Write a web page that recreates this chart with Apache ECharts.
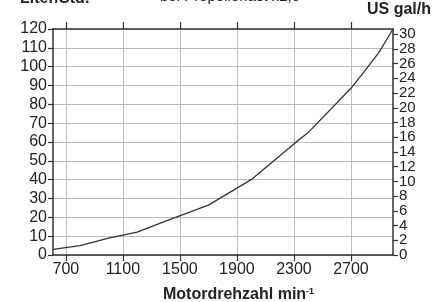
<!DOCTYPE html>
<html>
<head>
<meta charset="utf-8">
<script src="https://cdn.jsdelivr.net/npm/echarts@6/dist/echarts.min.js"></script>
<style>
  html, body { margin: 0; padding: 0; background: #fff; }
  #chart { width: 437px; height: 302px; }
</style>
</head>
<body>
<div id="chart"></div>
<script>
// Verbrauch (Liter/Std.) über Motordrehzahl
const rpm = [610, 800, 1000, 1200, 1400, 1700, 2000, 2300, 2400, 2700, 2800, 2900, 2995]
const literPerHour = [3.0, 5.0, 9.0, 12.2, 18, 26.5, 40, 59, 65, 88.5, 98, 108, 120]
const rpmTicks = [700, 1100, 1500, 1900, 2300, 2700]
const galTicks = [0, 2, 4, 6, 8, 10, 12, 14, 16, 18, 20, 22, 24, 26, 28, 30]

const ink = '#222'
const font = 'Liberation Sans, Arial, sans-serif'
const narrow = 'Liberation Sans Narrow, Liberation Sans, sans-serif'

// the gal labels are too dense for one axis (ECharts hides neighbours), so split them over two
const galLabelsA = galTicks.filter(v => v % 4 === 0)
const galLabelsB = galTicks.filter(v => v % 4 !== 0)

const myChart = echarts.init(document.getElementById('chart'))

const galAxis = (labels, withLine) => ({
  type: 'value',
  position: 'right',
  min: 0,
  max: 30.7,
  axisLine: { show: withLine, onZero: false, lineStyle: { color: '#333', width: 1.5 } },
  axisTick: { show: withLine, customValues: galTicks, length: 5, lineStyle: { color: '#333', width: 1.2 } },
  axisLabel: {
    customValues: labels, color: ink, fontSize: 15, margin: 6,
    showMinLabel: true, showMaxLabel: true, fontFamily: narrow
  },
  splitLine: { show: false }
})

const option = {
  animation: false,
  grid: { left: 53, right: 44, top: 29, bottom: 47 },
  xAxis: [
    {
      type: 'value',
      min: 610,
      max: 2995,
      axisLine: { onZero: false, lineStyle: { color: '#333', width: 1.5 } },
      axisTick: { customValues: rpmTicks, length: 6, lineStyle: { color: '#333', width: 1.2 } },
      axisLabel: {
        customValues: rpmTicks, color: ink, fontSize: 16, fontFamily: font, margin: 7,
        formatter: v => String(v)
      },
      splitLine: { show: true, lineStyle: { color: '#bbb', width: 1 } }
    },
    {
      type: 'value',
      position: 'top',
      min: 610,
      max: 2995,
      axisLine: { show: true, onZero: false, lineStyle: { color: '#333', width: 1.5 } },
      axisTick: { show: true, customValues: rpmTicks, length: 7, lineStyle: { color: '#333', width: 1.2 } },
      axisLabel: { show: false },
      splitLine: { show: false }
    }
  ],
  yAxis: [
    {
      type: 'value',
      min: 0,
      max: 120,
      interval: 10,
      axisLine: { show: true, onZero: false, lineStyle: { color: '#333', width: 1.5 } },
      axisTick: { show: true, length: 5, lineStyle: { color: '#333', width: 1.2 } },
      axisLabel: { color: ink, fontSize: 16, fontFamily: font, margin: 6 },
      splitLine: { show: true, lineStyle: { color: '#bbb', width: 1 } }
    },
    galAxis(galLabelsA, true),
    galAxis(galLabelsB, false)
  ],
  graphic: [
    {
      type: 'text', left: 20, top: -9,
      style: { text: 'Liter/Std.', fill: ink, font: 'bold 16px ' + font }
    },
    {
      type: 'text', left: 160, top: -11,
      style: { text: 'bei Propellerlast x2,5', fill: ink, font: '15px ' + font }
    },
    {
      type: 'text', left: 367, top: 2,
      style: { text: 'US gal/h', fill: ink, font: 'bold 16px ' + font }
    },
    {
      type: 'text', left: 163, top: 287,
      style: {
        text: '{m|Motordrehzahl min}{s|-1}',
        rich: {
          m: { fill: ink, fontSize: 16, fontWeight: 'bold', fontFamily: font, lineHeight: 16 },
          s: { fill: ink, fontSize: 9, fontWeight: 'bold', fontFamily: font, lineHeight: 9, verticalAlign: 'top' }
        }
      }
    }
  ],
  series: [
    {
      type: 'line',
      xAxisIndex: 0,
      yAxisIndex: 0,
      data: rpm.map((r, i) => [r, literPerHour[i]]),
      showSymbol: false,
      lineStyle: { color: '#333', width: 1.3 }
    }
  ]
}

myChart.setOption(option)
</script>
</body>
</html>
